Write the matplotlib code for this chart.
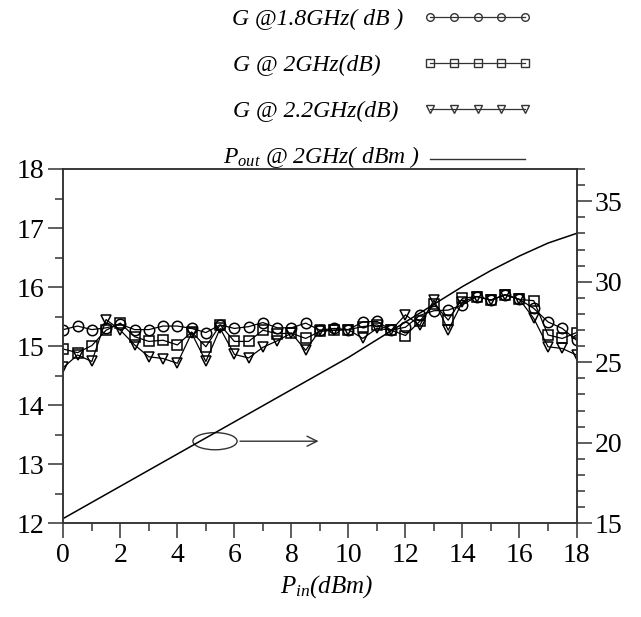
import matplotlib
matplotlib.use("Agg")
import matplotlib.pyplot as plt
from matplotlib.lines import Line2D
from matplotlib.patches import Ellipse
from matplotlib.ticker import MultipleLocator

plt.rcParams['font.family'] = ['Liberation Serif', 'DejaVu Serif']
plt.rcParams['mathtext.fontset'] = 'custom'
plt.rcParams['mathtext.it'] = 'Liberation Serif:italic'
plt.rcParams['mathtext.rm'] = 'Liberation Serif'

pin = [0, 0.5, 1, 1.5, 2, 2.5, 3, 3.5, 4, 4.5, 5, 5.5, 6, 6.5, 7, 7.5, 8, 8.5, 9,
       9.5, 10, 10.5, 11, 11.5, 12, 12.5, 13, 13.5, 14, 14.5, 15, 15.5, 16, 16.5,
       17, 17.5, 18]
g_18 = [15.28, 15.34, 15.28, 15.31, 15.37, 15.28, 15.28, 15.34, 15.34, 15.30,
        15.23, 15.36, 15.30, 15.33, 15.40, 15.31, 15.31, 15.39, 15.27, 15.30,
        15.28, 15.41, 15.42, 15.27, 15.32, 15.52, 15.60, 15.61, 15.70, 15.84,
        15.78, 15.87, 15.79, 15.64, 15.41, 15.30, 15.10]
g_20 = [14.95, 14.89, 15.01, 15.27, 15.39, 15.16, 15.08, 15.10, 15.02, 15.24,
        14.99, 15.36, 15.08, 15.08, 15.27, 15.21, 15.22, 15.13, 15.25, 15.27,
        15.28, 15.33, 15.36, 15.27, 15.18, 15.42, 15.72, 15.44, 15.81, 15.84,
        15.78, 15.87, 15.79, 15.77, 15.19, 15.13, 15.23]
g_22 = [14.64, 14.85, 14.74, 15.45, 15.27, 15.02, 14.82, 14.79, 14.71, 15.22,
        14.74, 15.30, 14.86, 14.80, 14.98, 15.09, 15.22, 14.93, 15.27, 15.27,
        15.28, 15.13, 15.30, 15.27, 15.53, 15.35, 15.78, 15.27, 15.75, 15.84,
        15.78, 15.87, 15.79, 15.47, 14.99, 14.96, 14.85]
pout_pin = [0, 1, 2, 3, 4, 5, 6, 7, 8, 9, 10, 11, 12, 13, 14, 15, 16, 17, 18]
pout = [15.3, 16.3, 17.3, 18.3, 19.3, 20.3, 21.3, 22.3, 23.3, 24.3, 25.3, 26.4,
        27.5, 28.6, 29.7, 30.7, 31.6, 32.4, 33.0]

labels = ["G @1.8GHz( dB )", "G @ 2GHz(dB)", "G @ 2.2GHz(dB)",
          r"$P_{out}$ @ 2GHz( dBm )"]

fig = plt.figure(figsize=(6.41, 6.17), dpi=100)
ax = fig.add_axes([0.0988, 0.1519, 0.8006, 0.5742])
ax2 = ax.twinx()

mk = dict(color='black', lw=0.9, mfc='none', mec='black', mew=1.1)
ax.plot(pin, g_18, marker='o', ms=7.5, **mk)
ax.plot(pin, g_20, marker='s', ms=7, **mk)
ax.plot(pin, g_22, marker='v', ms=7.5, **mk)
ax2.plot(pout_pin, pout, color='black', lw=1.1)

ax.set_xlim(0, 18)
ax.set_ylim(12, 18)
ax2.set_ylim(15, 37)
ax.xaxis.set_major_locator(MultipleLocator(2))
ax.xaxis.set_minor_locator(MultipleLocator(1))
ax.yaxis.set_major_locator(MultipleLocator(1))
ax.yaxis.set_minor_locator(MultipleLocator(0.5))
ax2.yaxis.set_major_locator(MultipleLocator(5))
ax2.yaxis.set_minor_locator(MultipleLocator(1))

for a in (ax, ax2):
    for s in a.spines.values():
        s.set_linewidth(1.1)
        s.set_color('#333333')
ax.tick_params(axis='both', which='major', direction='out', length=11, width=1.1,
               labelsize=20, color='#333333', pad=3)
ax.tick_params(axis='both', which='minor', direction='out', length=6, width=1.1,
               color='#333333')
ax.tick_params(axis='y', right=False)
ax.tick_params(axis='x', top=False, which='both')
ax2.tick_params(axis='y', which='major', direction='out', length=11, width=1.1,
                labelsize=20, color='#333333', pad=2)
ax2.tick_params(axis='y', which='minor', direction='out', length=6, width=1.1,
                color='#333333')

ax.set_xlabel(r"$P_{in}$(dBm)", fontsize=18, fontstyle='italic')
ax.xaxis.set_label_coords(0.513, -0.14)

# annotation ellipse + arrow
ax.add_patch(Ellipse((5.32, 13.39), 1.55, 0.29, fill=False, ec='#333333', lw=1.0))
ax.annotate("", xy=(9.05, 13.39), xytext=(6.1, 13.39),
            arrowprops=dict(arrowstyle='->', color='#333333', lw=1.0,
                            mutation_scale=18))

# custom legend in figure pixel coordinates
W, H = 641.0, 617.0
rows_y = [19, 65, 111, 157]
text_x = [232, 233, 233, 223]
for lab, y, tx in zip(labels, rows_y, text_x):
    fig.text(tx / W, 1 - y / H, lab, fontsize=17, fontstyle='italic',
             ha='left', va='center')
hx = [430 / W, 525 / W]
mk_list = ['o', 's', 'v']
for i, m in enumerate(mk_list):
    yy = 1 - (rows_y[i] - 2) / H
    fig.add_artist(Line2D(hx, [yy, yy], color='#333333', lw=0.9))
    fig.add_artist(Line2D([430 / W + k * 23.75 / W for k in range(5)], [yy] * 5,
                          ls='none', marker=m, ms=5.5, mfc='none', mec='#333333',
                          mew=1.0))
yy = 1 - (rows_y[3] + 2) / H
fig.add_artist(Line2D(hx, [yy, yy], color='#333333', lw=1.0))

fig.savefig("out.png", dpi=100)
